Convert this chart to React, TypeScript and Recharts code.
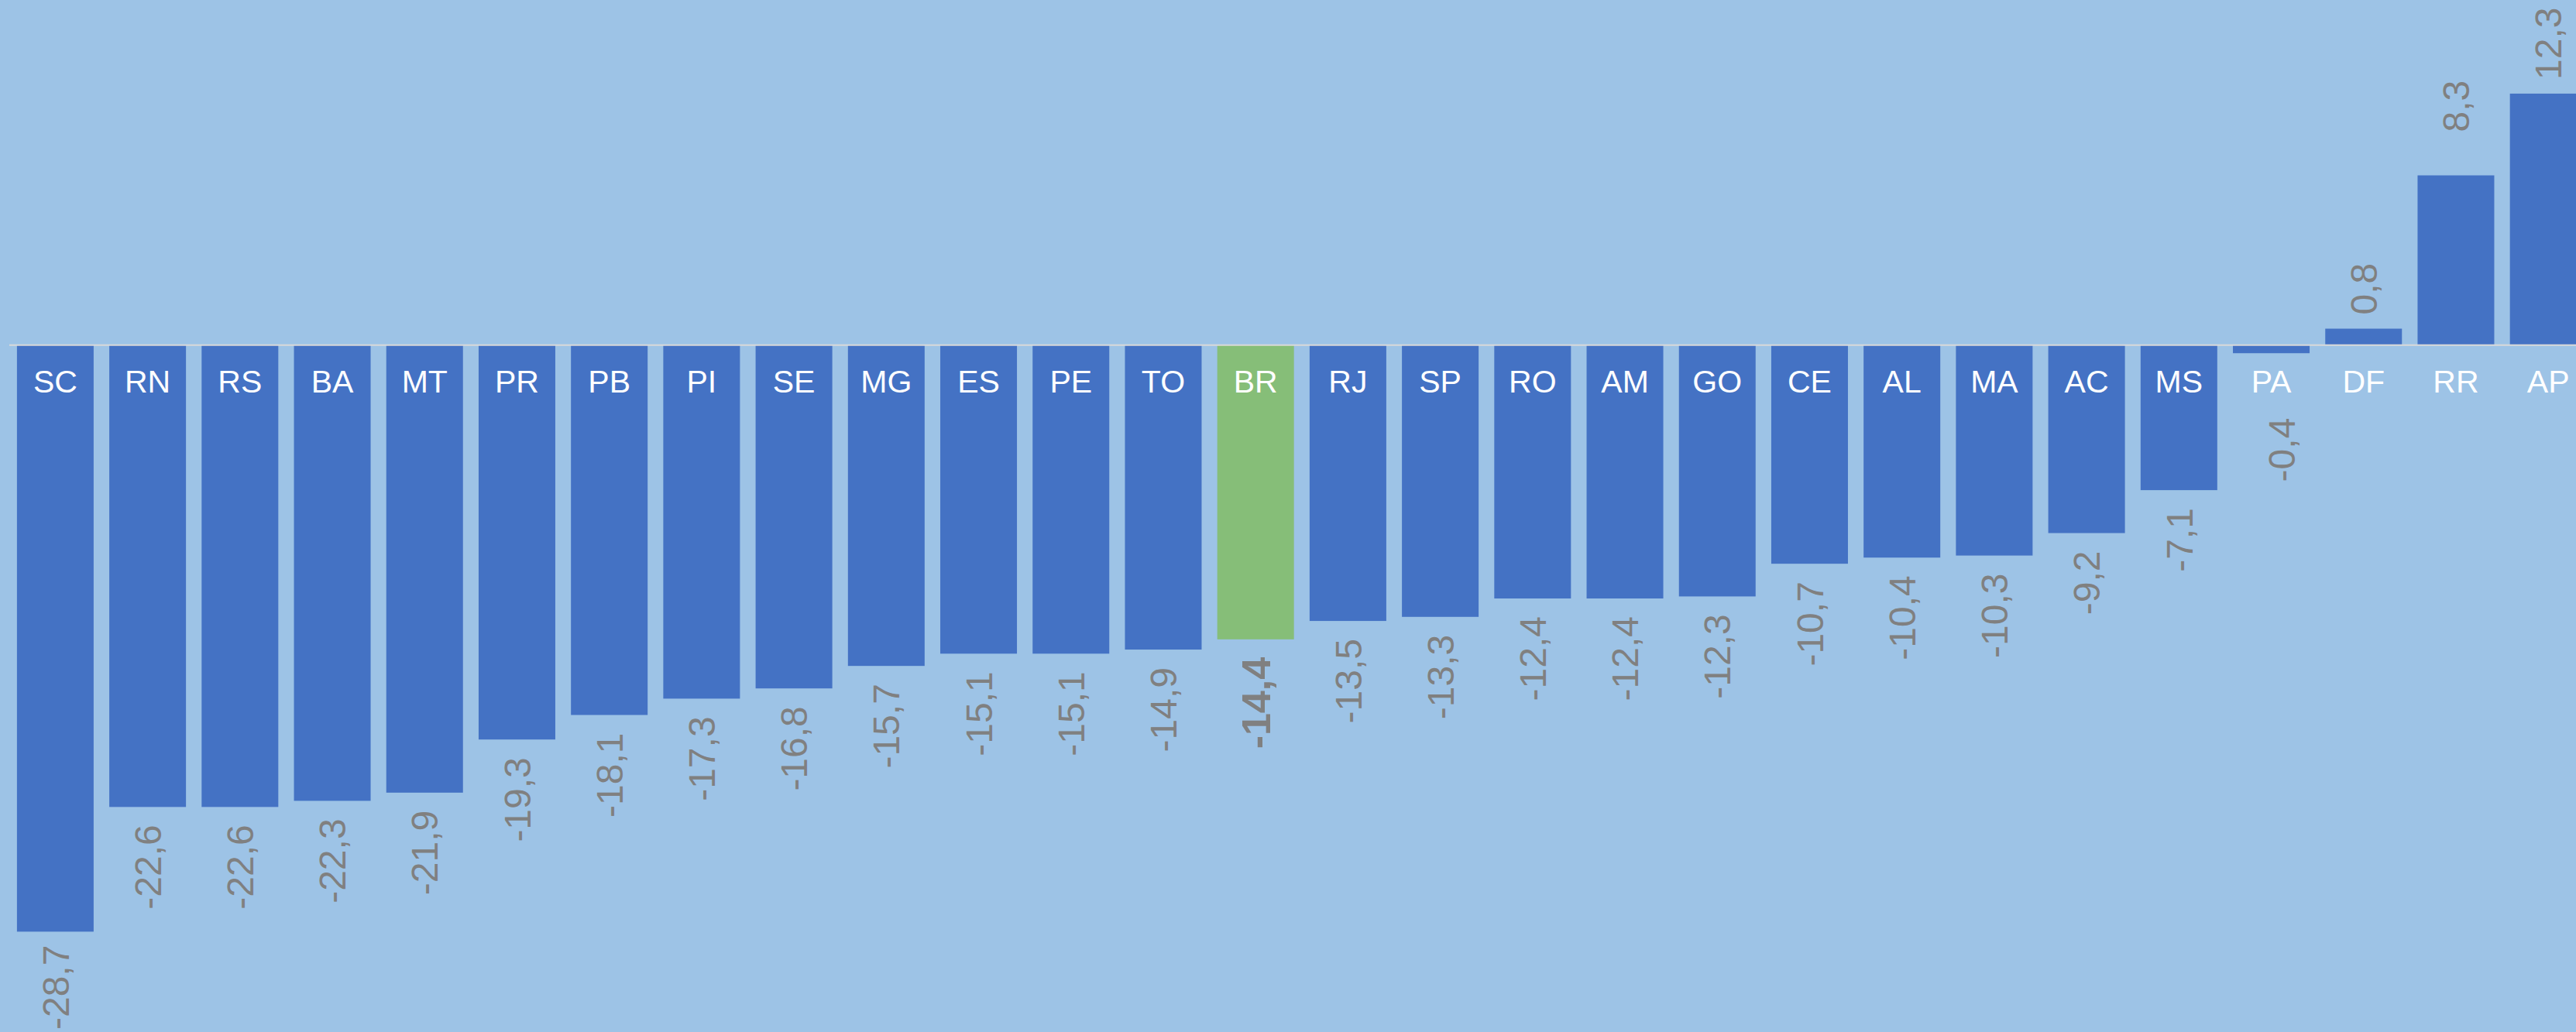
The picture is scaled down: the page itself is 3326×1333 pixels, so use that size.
import React from "react";
import { BarChart, Bar, XAxis, YAxis, ReferenceLine } from "recharts";

const categories = [
  "SC", "RN", "RS", "BA", "MT", "PR", "PB", "PI", "SE", "MG", "ES", "PE", "TO", "BR",
  "RJ", "SP", "RO", "AM", "GO", "CE", "AL", "MA", "AC", "MS", "PA", "DF", "RR", "AP",
];
const values = [
  -28.7, -22.6, -22.6, -22.3, -21.9, -19.3, -18.1, -17.3, -16.8, -15.7, -15.1, -15.1, -14.9, -14.4,
  -13.5, -13.3, -12.4, -12.4, -12.3, -10.7, -10.4, -10.3, -9.2, -7.1, -0.4, 0.8, 8.3, 12.3,
];
const highlight = "BR";
const yDomain: [number, number] = [-33.61, 16.88];

const data = categories.map((cat, i) => ({ cat, value: values[i] }));

const W = 3326;
const H = 1333;
const CHART_W = 3350;
const BG = "#9DC3E6";
const BAR = "#4472C4";
const GREEN = "#86BE78";
const LABEL = "#808080";
const AXIS = "#D9D9D9";
const FONT = '"Liberation Sans", Arial, Helvetica, sans-serif';
const VAL_FS = 48;
const VAL_FS_BOLD = 52;
const CAT_FS = 41;

// manual label nudges (style only)
const nudge: Record<string, { dx?: number; dy?: number }> = {
  RR: { dy: -38 },
  PA: { dx: 13 },
};

const fmt = (v: number) => v.toFixed(1).replace(".", ",");
const textLen = (s: string, fs: number) =>
  s.split("").reduce((a, c) => a + (c === "-" ? 0.333 : c === "," ? 0.278 : 0.556), 0) * fs;

function BarShape(props: any) {
  const { x, y, width, height, payload } = props;
  if (!payload) return null;
  const top = Math.min(y, y + height);
  const bottom = Math.max(y, y + height);
  const v: number = payload.value;
  const cat: string = payload.cat;
  const neg = v < 0;
  const zeroY = neg ? top : bottom;
  const cx = x + width / 2;
  const isHi = cat === highlight;
  const fill = isHi ? GREEN : BAR;
  const fs = isHi ? VAL_FS_BOLD : VAL_FS;
  const label = fmt(v);
  const len = textLen(label, fs);
  const n = nudge[cat] ?? {};
  const lx = cx + (n.dx ?? 0);
  let ly = neg
    ? Math.max(bottom + 23, zeroY + 94) + (n.dy ?? 0)
    : top - 18 + (n.dy ?? 0);
  if (neg) ly = Math.min(ly, H - 3 - len);
  else ly = Math.max(ly, 3 + len);
  return (
    <g>
      <rect x={x} y={top} width={width} height={bottom - top} fill={fill} />
      <text
        x={cx}
        y={zeroY + 61.6}
        textAnchor="middle"
        fill="#FFFFFF"
        fontSize={CAT_FS}
        fontFamily={FONT}
      >
        {cat}
      </text>
      <text
        x={lx}
        y={ly}
        transform={`rotate(-90 ${lx} ${ly})`}
        textAnchor={neg ? "end" : "start"}
        dy="0.358em"
        fill={LABEL}
        fontSize={fs}
        fontWeight={isHi ? 700 : 400}
        fontFamily={FONT}
      >
        {label}
      </text>
    </g>
  );
}

export default function App() {
  return (
    <div
      style={{
        position: "absolute",
        left: 0,
        top: 0,
        width: W,
        height: H,
        overflow: "hidden",
        background: BG,
      }}
    >
      <BarChart
        width={CHART_W}
        height={H}
        data={data}
        margin={{ top: 0, right: 0, bottom: 0, left: 12 }}
        barCategoryGap="8.3%"
      >
        <XAxis dataKey="cat" hide />
        <YAxis hide type="number" domain={yDomain} allowDataOverflow />
        <Bar
          dataKey="value"
          isAnimationActive={false}
          shape={(p: any) => <BarShape {...p} />}
        />
        <ReferenceLine y={0} stroke={AXIS} strokeWidth={2} />
      </BarChart>
    </div>
  );
}
